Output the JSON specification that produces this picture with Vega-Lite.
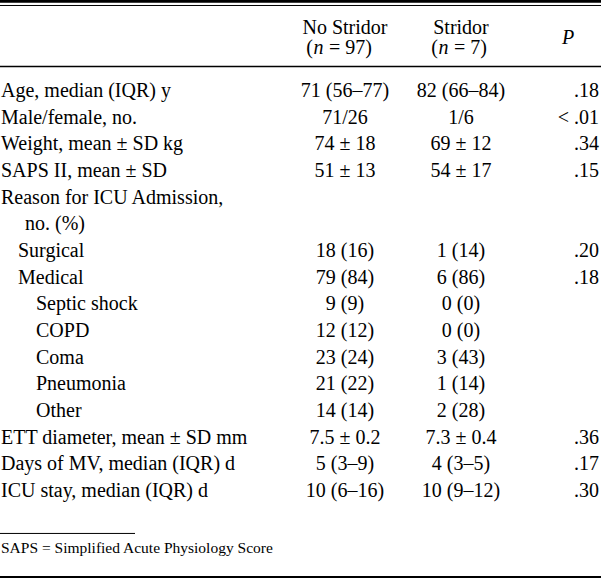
{
  "$schema": "https://vega.github.io/schema/vega-lite/v6.json",
  "width": 601,
  "height": 578,
  "autosize": {"type": "none"},
  "padding": 0,
  "background": "white",
  "config": {"view": {"stroke": null}, "text": {"font": "Liberation Serif", "fontSize": 20, "color": "#000"}},
  "datasets": {
    "one": [{}],
    "table": [
    {"row": 1, "level": "0", "label": "Age, median (IQR) y", "nostridor": "71 (56–77)", "stridor": "82 (66–84)", "p": ".18"},
    {"row": 2, "level": "0", "label": "Male/female, no.", "nostridor": "71/26", "stridor": "1/6", "p": "< .01"},
    {"row": 3, "level": "0", "label": "Weight, mean ± SD kg", "nostridor": "74 ± 18", "stridor": "69 ± 12", "p": ".34"},
    {"row": 4, "level": "0", "label": "SAPS II, mean ± SD", "nostridor": "51 ± 13", "stridor": "54 ± 17", "p": ".15"},
    {"row": 5, "level": "0", "label": "Reason for ICU Admission,", "nostridor": "", "stridor": "", "p": ""},
    {"row": 6, "level": "h", "label": "no. (%)", "nostridor": "", "stridor": "", "p": ""},
    {"row": 7, "level": "1", "label": "Surgical", "nostridor": "18 (16)", "stridor": "1 (14)", "p": ".20"},
    {"row": 8, "level": "1", "label": "Medical", "nostridor": "79 (84)", "stridor": "6 (86)", "p": ".18"},
    {"row": 9, "level": "2", "label": "Septic shock", "nostridor": "9 (9)", "stridor": "0 (0)", "p": ""},
    {"row": 10, "level": "2", "label": "COPD", "nostridor": "12 (12)", "stridor": "0 (0)", "p": ""},
    {"row": 11, "level": "2", "label": "Coma", "nostridor": "23 (24)", "stridor": "3 (43)", "p": ""},
    {"row": 12, "level": "2", "label": "Pneumonia", "nostridor": "21 (22)", "stridor": "1 (14)", "p": ""},
    {"row": 13, "level": "2", "label": "Other", "nostridor": "14 (14)", "stridor": "2 (28)", "p": ""},
    {"row": 14, "level": "0", "label": "ETT diameter, mean ± SD mm", "nostridor": "7.5 ± 0.2", "stridor": "7.3 ± 0.4", "p": ".36"},
    {"row": 15, "level": "0", "label": "Days of MV, median (IQR) d", "nostridor": "5 (3–9)", "stridor": "4 (3–5)", "p": ".17"},
    {"row": 16, "level": "0", "label": "ICU stay, median (IQR) d", "nostridor": "10 (6–16)", "stridor": "10 (9–12)", "p": ".30"}
  ]},
  "data": {"name": "table"},
  "layer": [
    {"data": {"name": "one"}, "mark": {"type": "rule", "strokeWidth": 2.7, "color": "#000"},
     "encoding": {"x": {"datum": 0, "type": "quantitative", "scale": {"domain": [0, 601], "nice": false, "zero": false}, "axis": null},
                  "x2": {"datum": 601},
                  "y": {"datum": -2.361, "type": "quantitative", "scale": {"domain": [-2.412, 19.263], "nice": false, "zero": false, "reverse": true}, "axis": null}}},
    {"data": {"name": "one"}, "mark": {"type": "rule", "strokeWidth": 1, "color": "#000"},
     "encoding": {"x": {"datum": 0, "type": "quantitative"}, "x2": {"datum": 601}, "y": {"datum": -2.206, "type": "quantitative"}}},
    {"data": {"name": "one"}, "mark": {"type": "rule", "strokeWidth": 1.3, "color": "#000"},
     "encoding": {"x": {"datum": 0, "type": "quantitative"}, "x2": {"datum": 601}, "y": {"datum": 0.081, "type": "quantitative"}}},
    {"data": {"name": "one"}, "mark": {"type": "rule", "strokeWidth": 1, "color": "#000"},
     "encoding": {"x": {"datum": 0, "type": "quantitative"}, "x2": {"datum": 135}, "y": {"datum": 17.592, "type": "quantitative"}}},
    {"data": {"name": "one"}, "mark": {"type": "rule", "strokeWidth": 2, "color": "#000"},
     "encoding": {"x": {"datum": 0, "type": "quantitative"}, "x2": {"datum": 601}, "y": {"datum": 19.223, "type": "quantitative"}}},

    {"data": {"name": "one"}, "mark": {"type": "text", "align": "center", "baseline": "middle"},
     "encoding": {"x": {"datum": 345, "type": "quantitative"}, "y": {"datum": -1.362, "type": "quantitative"}, "text": {"value": "No Stridor"}}},
    {"data": {"name": "one"}, "mark": {"type": "text", "align": "center", "baseline": "middle"},
     "encoding": {"x": {"datum": 461, "type": "quantitative"}, "y": {"datum": -1.362, "type": "quantitative"}, "text": {"value": "Stridor"}}},
    {"data": {"name": "one"}, "mark": {"type": "text", "align": "right", "baseline": "middle"},
     "encoding": {"x": {"datum": 313, "type": "quantitative"}, "y": {"datum": -0.612, "type": "quantitative"}, "text": {"value": "("}}},
    {"data": {"name": "one"}, "mark": {"type": "text", "align": "center", "baseline": "middle", "fontStyle": "italic"},
     "encoding": {"x": {"datum": 318.5, "type": "quantitative"}, "y": {"datum": -0.612, "type": "quantitative"}, "text": {"value": "n"}}},
    {"data": {"name": "one"}, "mark": {"type": "text", "align": "left", "baseline": "middle"},
     "encoding": {"x": {"datum": 329, "type": "quantitative"}, "y": {"datum": -0.612, "type": "quantitative"}, "text": {"value": "=  97)"}}},
    {"data": {"name": "one"}, "mark": {"type": "text", "align": "right", "baseline": "middle"},
     "encoding": {"x": {"datum": 438, "type": "quantitative"}, "y": {"datum": -0.612, "type": "quantitative"}, "text": {"value": "("}}},
    {"data": {"name": "one"}, "mark": {"type": "text", "align": "center", "baseline": "middle", "fontStyle": "italic"},
     "encoding": {"x": {"datum": 443.5, "type": "quantitative"}, "y": {"datum": -0.612, "type": "quantitative"}, "text": {"value": "n"}}},
    {"data": {"name": "one"}, "mark": {"type": "text", "align": "left", "baseline": "middle"},
     "encoding": {"x": {"datum": 454, "type": "quantitative"}, "y": {"datum": -0.612, "type": "quantitative"}, "text": {"value": "=  7)"}}},
    {"data": {"name": "one"}, "mark": {"type": "text", "align": "center", "baseline": "middle", "fontStyle": "italic"},
     "encoding": {"x": {"datum": 568, "type": "quantitative"}, "y": {"datum": -0.987, "type": "quantitative"}, "text": {"value": "P"}}},

    {"transform": [{"filter": "datum.level == '0'"}],
     "mark": {"type": "text", "align": "left", "baseline": "middle"},
     "encoding": {"x": {"datum": 1, "type": "quantitative"}, "y": {"field": "row", "type": "quantitative"}, "text": {"field": "label"}}},
    {"transform": [{"filter": "datum.level == 'h'"}],
     "mark": {"type": "text", "align": "left", "baseline": "middle"},
     "encoding": {"x": {"datum": 25, "type": "quantitative"}, "y": {"field": "row", "type": "quantitative"}, "text": {"field": "label"}}},
    {"transform": [{"filter": "datum.level == '1'"}],
     "mark": {"type": "text", "align": "left", "baseline": "middle"},
     "encoding": {"x": {"datum": 18, "type": "quantitative"}, "y": {"field": "row", "type": "quantitative"}, "text": {"field": "label"}}},
    {"transform": [{"filter": "datum.level == '2'"}],
     "mark": {"type": "text", "align": "left", "baseline": "middle"},
     "encoding": {"x": {"datum": 36, "type": "quantitative"}, "y": {"field": "row", "type": "quantitative"}, "text": {"field": "label"}}},
    {"mark": {"type": "text", "align": "center", "baseline": "middle"},
     "encoding": {"x": {"datum": 345, "type": "quantitative"}, "y": {"field": "row", "type": "quantitative"}, "text": {"field": "nostridor"}}},
    {"mark": {"type": "text", "align": "center", "baseline": "middle"},
     "encoding": {"x": {"datum": 461, "type": "quantitative"}, "y": {"field": "row", "type": "quantitative"}, "text": {"field": "stridor"}}},
    {"mark": {"type": "text", "align": "right", "baseline": "middle"},
     "encoding": {"x": {"datum": 599, "type": "quantitative"}, "y": {"field": "row", "type": "quantitative"}, "text": {"field": "p"}}},

    {"data": {"name": "one"}, "mark": {"type": "text", "align": "left", "baseline": "middle", "fontSize": 15.5},
     "encoding": {"x": {"datum": 1, "type": "quantitative"}, "y": {"datum": 18.136, "type": "quantitative"}, "text": {"value": "SAPS  =  Simplified Acute Physiology Score"}}}
  ]
}
